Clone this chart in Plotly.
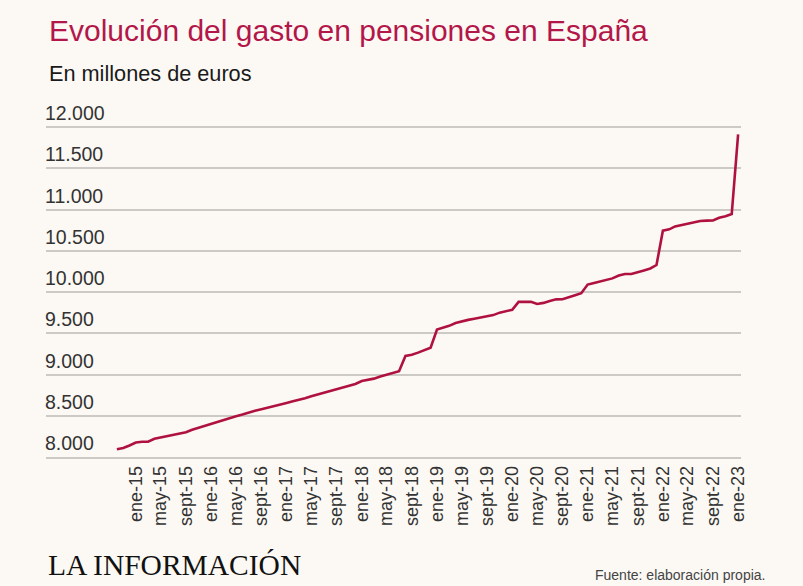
import pandas as pd
import plotly.graph_objects as go

# ---- data (monthly, millones de euros) ----
months = pd.date_range("2014-10-01", periods=100, freq="MS")
gasto = [
    8093, 8110, 8140,                                   # oct-dic 2014
    8175, 8185, 8185, 8220, 8236, 8250, 8262, 8280, 8300, 8330, 8355, 8380,   # 2015
    8405, 8430, 8455, 8475, 8495, 8515, 8540, 8560, 8578, 8595, 8615, 8635,   # 2016
    8655, 8675, 8690, 8712, 8735, 8756, 8780, 8805, 8820, 8840, 8865, 8885,   # 2017
    8920, 8935, 8950, 8975, 8995, 9020, 9040, 9225, 9240, 9265, 9295, 9325,   # 2018
    9545, 9565, 9590, 9625, 9645, 9662, 9675, 9690, 9705, 9720, 9750, 9765,   # 2019
    9785, 9880, 9882, 9882, 9855, 9868, 9890, 9911, 9912, 9940, 9960, 9985,   # 2020
    10090, 10110, 10125, 10140, 10165, 10200, 10218, 10218, 10245, 10262, 10285, 10327,  # 2021
    10743, 10760, 10795, 10812, 10830, 10845, 10860, 10865, 10866, 10900, 10918, 10945,  # 2022
    11911,                                               # ene-2023
]

tick_dates = ["2015-01-01", "2015-05-01", "2015-09-01", "2016-01-01", "2016-05-01", "2016-09-01",
              "2017-01-01", "2017-05-01", "2017-09-01", "2018-01-01", "2018-05-01", "2018-09-01",
              "2019-01-01", "2019-05-01", "2019-09-01", "2020-01-01", "2020-05-01", "2020-09-01",
              "2021-01-01", "2021-05-01", "2021-09-01", "2022-01-01", "2022-05-01", "2022-09-01",
              "2023-01-01"]
tick_labels = ["ene-15", "may-15", "sept-15", "ene-16", "may-16", "sept-16",
               "ene-17", "may-17", "sept-17", "ene-18", "may-18", "sept-18",
               "ene-19", "may-19", "sept-19", "ene-20", "may-20", "sept-20",
               "ene-21", "may-21", "sept-21", "ene-22", "may-22", "sept-22",
               "ene-23"]
y_ticks = [8000, 8500, 9000, 9500, 10000, 10500, 11000, 11500, 12000]
y_labels = ["8.000", "8.500", "9.000", "9.500", "10.000", "10.500", "11.000", "11.500", "12.000"]

title = "Evolución del gasto en pensiones en España"
subtitle = "En millones de euros"
source = "Fuente: elaboración propia."
logo = "LA INFORMACIÓN"

BG = "#fcf9f4"
RED = "#b3174a"
LINE = "#b0123f"
GRID = "#cdc9c4"

W, H = 803, 586
L, R, T, B = 46, 62, 100, 129
PW, PH = W - L - R, H - T - B
# 8000 at the plot bottom (y=457 px), 12000 at y=127 px -> 330 px per 4000
PER_PX = 4000 / 330
Y_MIN = 8000
Y_MAX = 8000 + PH * PER_PX


def px(x):
    return (x - L) / PW


def py(y):
    return (H - B - y) / PH


fig = go.Figure()
fig.add_trace(go.Scatter(x=months, y=gasto, mode="lines",
                         line=dict(color=LINE, width=2.6), hoverinfo="x+y"))

fig.update_layout(
    width=W, height=H,
    margin=dict(l=L, r=R, t=T, b=B),
    paper_bgcolor=BG, plot_bgcolor=BG,
    showlegend=False,
    font=dict(family="Liberation Sans, Arial, sans-serif", color="#333333"),
    xaxis=dict(
        type="date",
        range=["2013-10-22", "2023-01-15"],
        tickmode="array", tickvals=tick_dates, ticktext=tick_labels,
        tickangle=-90, tickfont=dict(size=18, color="#333333"),
        showgrid=False, zeroline=False,
        showline=True, linecolor=GRID, linewidth=1.5,
        ticks="", ticklen=0,
    ),
    yaxis=dict(
        range=[Y_MIN, Y_MAX],
        tickmode="array", tickvals=y_ticks, ticktext=y_labels,
        ticklabelposition="inside top",
        ticklabelstandoff=-4,
        tickfont=dict(size=19.5, color="#333333"),
        showgrid=True, gridcolor=GRID, gridwidth=1.5,
        zeroline=False, showline=False, ticks="",
    ),
)

annots = [
    dict(text=title, x=px(47), y=py(30), xanchor="left", yanchor="middle",
         font=dict(size=30, color=RED)),
    dict(text=subtitle, x=px(47), y=py(73), xanchor="left", yanchor="middle",
         font=dict(size=21.7, color="#1a1a1a")),
    dict(text=logo, x=px(46), y=py(565), xanchor="left", yanchor="middle",
         font=dict(size=29.5, color="#111111", family="Liberation Serif, Times New Roman, serif")),
    dict(text=source, x=px(767), y=py(575), xanchor="right", yanchor="middle",
         font=dict(size=14, color="#444444")),
]
for a in annots:
    fig.add_annotation(xref="paper", yref="paper", showarrow=False, **a)

fig.write_html("out.html")
